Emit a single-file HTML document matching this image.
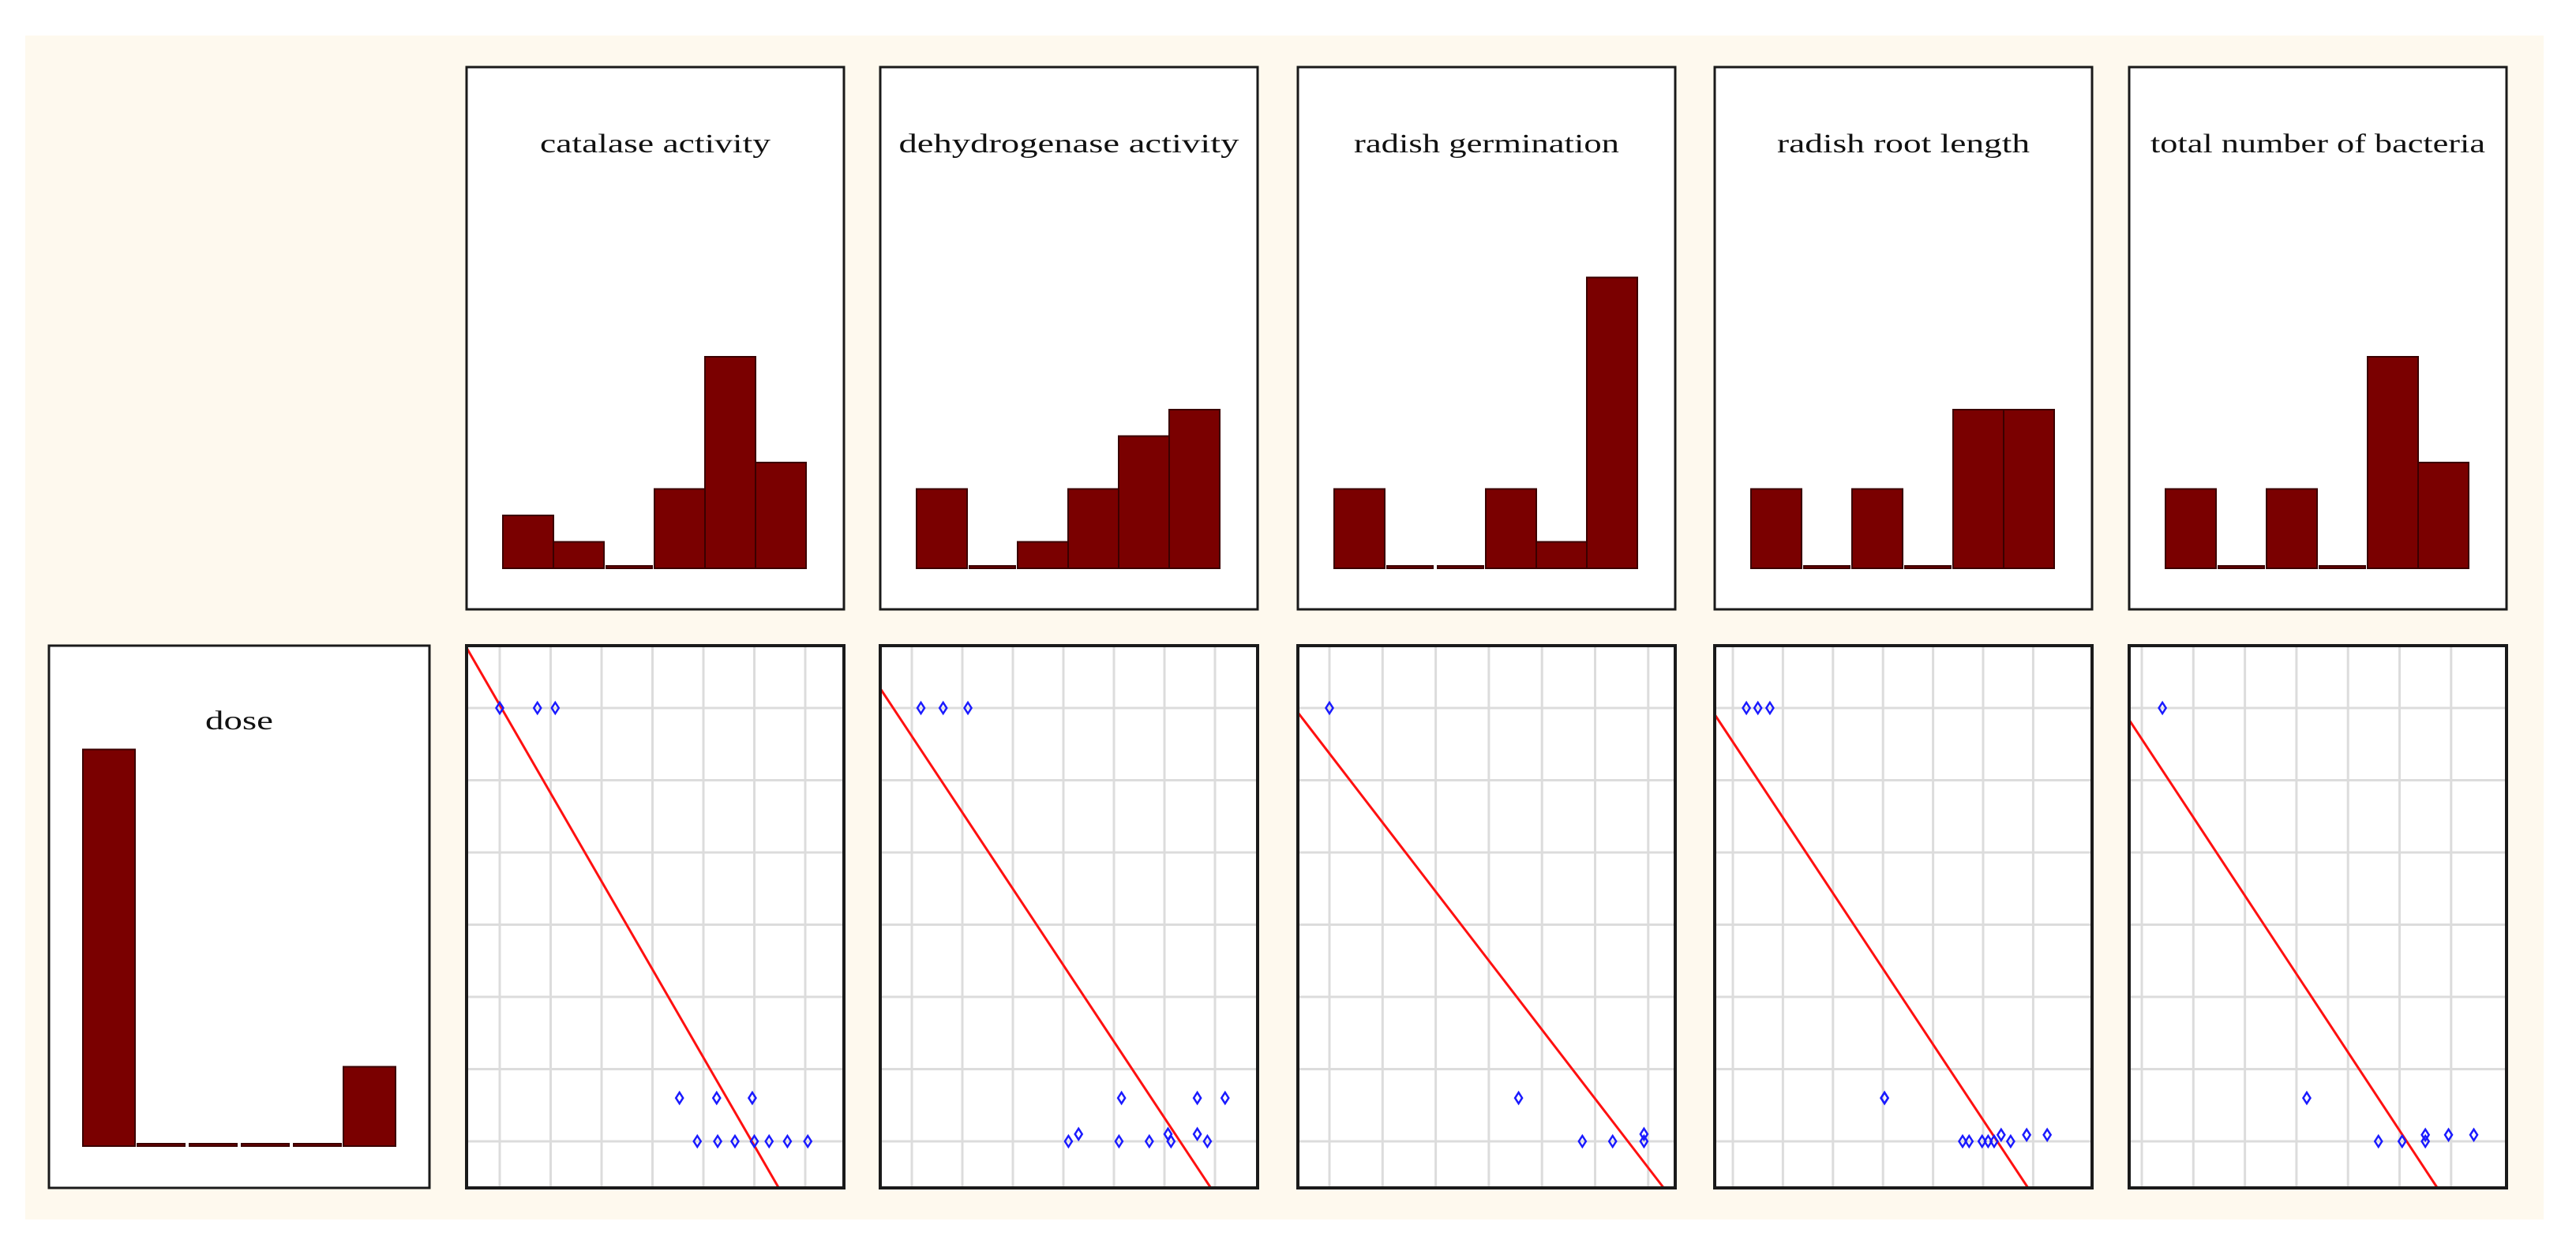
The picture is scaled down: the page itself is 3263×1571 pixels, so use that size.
<!DOCTYPE html>
<html><head><meta charset="utf-8"><style>
html,body{margin:0;padding:0;background:#fff;overflow:hidden;width:3263px;height:1571px;}
svg{display:block;}
text{font-family:"Liberation Serif",serif;fill:#111;}
</style></head><body>
<svg id="chart" width="3263" height="1571" viewBox="0 0 3263 1571" xmlns="http://www.w3.org/2000/svg">
<rect x="32" y="45" width="3190" height="1500" fill="#fef9ee"/>
<g id="g"></g>
</svg>
<script>
// histogram counts
const titles = ["catalase activity","dehydrogenase activity","radish germination","radish root length","total number of bacteria"];
const catalaseCounts = [2,1,0,3,8,4];
const dehydroCounts = [3,0,1,3,5,6];
const germCounts = [3,0,0,3,1,11];
const rootCounts = [3,0,3,0,6,6];
const bacteriaCounts = [3,0,3,0,8,4];
const doseCounts = [15,0,0,0,0,3];
// scatter data (x in grid units, y in grid units)
const catX = [0,0.74,1.09,3.53,4.26,4.96,3.88,4.28,4.62,5.0,5.29,5.65,6.05];
const catY = [6,6,6,0.6,0.6,0.6,0,0,0,0,0,0,0];
const dehX = [0.18,0.62,1.11,4.15,5.65,6.2,3.1,3.3,4.1,4.7,5.07,5.13,5.65,5.85];
const dehY = [6,6,6,0.6,0.6,0.6,0,0.1,0,0,0.1,0,0.1,0];
const gerX = [0,3.56,4.76,5.33,5.92,5.92];
const gerY = [6,0.6,0,0,0.1,0];
const rooX = [0.27,0.5,0.74,3.03,3.03,4.59,4.72,4.98,5.1,5.22,5.36,5.55,5.87,6.28];
const rooY = [6,6,6,0.6,0.6,0,0,0,0,0,0.09,0,0.09,0.09];
const bacX = [0.4,3.2,4.59,5.05,5.5,5.5,5.95,6.44];
const bacY = [6,0.6,0,0,0,0.09,0.09,0.09];
// regression lines: intercept, slope
const lineA = [6.04,5.61,5.37,5.53,5.57];
const lineB = [-1.22,-1.057,-0.956,-1.047,-1.084];

const NS="http://www.w3.org/2000/svg";
const g=document.getElementById('g');
function mk(tag,attrs,parent){const e=document.createElementNS(NS,tag);for(const k in attrs)e.setAttribute(k,attrs[k]);(parent||g).appendChild(e);return e;}

const lefts=[591,1115,1644,2172,2697];
const PW=478;
const hist=[catalaseCounts,dehydroCounts,germCounts,rootCounts,bacteriaCounts];
const titleW=[292,431,336,320,424];
const sx=[catX,dehX,gerX,rooX,bacX], sy=[catY,dehY,gerY,rooY,bacY];
const gx0=[633,1155,1684,2195,2713], gdx=[64.5,64,67.3,63.4,65.3];

function histPanel(left,top,w,h,counts,title,tw,barX0,barW,base,unit,ty,nm){
  const p=mk('rect',{x:left,y:top,width:w,height:h,fill:'#fff',stroke:'#1a1a1a','stroke-width':3});
  
  
  const t=mk('text',{x:left+w/2,y:ty,'text-anchor':'middle','font-size':34,textLength:tw,lengthAdjust:'spacingAndGlyphs'});
  t.textContent=title;
  
  
  counts.forEach((c,i)=>{
    const hh=Math.max(c*unit,3);
    const r=mk('rect',{x:barX0+i*barW+(c===0?3:0),y:base-hh,width:barW-(c===0?6:0),height:hh,fill:'#7a0000',stroke:'#3a0000','stroke-width':2});
    
    
  });
}
for(let k=0;k<5;k++){
  histPanel(lefts[k],85,PW,687,hist[k],titles[k],titleW[k],lefts[k]+46,64,720,33.5,193,'var'+(k+1));
}
histPanel(62,818,482,687,doseCounts,'dose',86,105,66,1452,33.5,924,'dose');

// scatter panels
const Y0=1446, DY=91.5, TOP=818, H=687;
for(let k=0;k<5;k++){
  const L=lefts[k];
  const X=v=>gx0[k]+v*gdx[k];
  const Y=v=>Y0-v*DY;
  const bg=mk('rect',{x:L,y:TOP,width:PW,height:H,fill:'#fff'});
  
  
  const gg=mk('g',{});
  for(let i=0;i<=6;i++){
    const v=mk('line',{x1:X(i),x2:X(i),y1:TOP,y2:TOP+H,stroke:'#dcdcdc','stroke-width':3},gg);
    
    
    const hl=mk('line',{x1:L,x2:L+PW,y1:Y(i),y2:Y(i),stroke:'#dcdcdc','stroke-width':3},gg);
    
    
  }
  // clip regression line manually to panel
  const uL=(L-gx0[k])/gdx[k], uR=(L+PW-gx0[k])/gdx[k];
  const vT=(Y0-TOP)/DY, vB=(Y0-TOP-H)/DY;
  const f=u=>lineA[k]+lineB[k]*u;
  const inv=v=>(v-lineA[k])/lineB[k];
  let u1=uL, u2=uR;
  if(f(u1)>vT) u1=inv(vT);
  if(f(u2)<vB) u2=inv(vB);
  const ln=mk('line',{x1:X(u1),y1:Y(f(u1)),x2:X(u2),y2:Y(f(u2)),stroke:'#ff1010','stroke-width':3},gg);
  
  
  sx[k].forEach((xv,i)=>{
    const cx=X(xv), cy=Y(sy[k][i]);
    const d=mk('path',{d:`M${cx},${cy-7} L${cx+4.5},${cy} L${cx},${cy+7} L${cx-4.5},${cy} Z`,fill:'none',stroke:'#1a1aff','stroke-width':2.5},gg);
    
    
  });
  const b=mk('rect',{x:L,y:TOP,width:PW,height:H,fill:'none',stroke:'#1a1a1a','stroke-width':4});
  
  
}
</script>
</body></html>
